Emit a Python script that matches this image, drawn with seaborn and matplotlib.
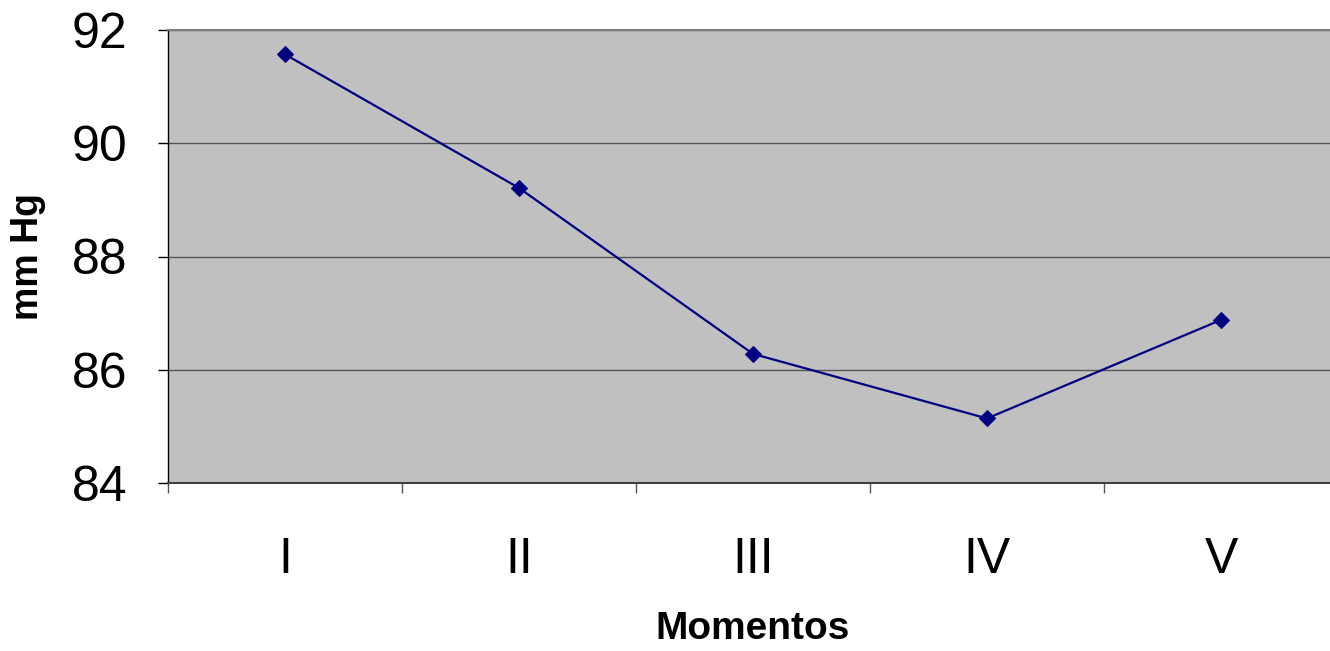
import numpy as np
import matplotlib
matplotlib.use("Agg")
import matplotlib.pyplot as plt
import seaborn as sns

# Daten
momentos = ["I", "II", "III", "IV", "V"]
mm_hg = [91.57, 89.21, 86.28, 85.14, 86.88]

sns.set_style("white")
plt.rcParams["font.family"] = ["Liberation Sans", "DejaVu Sans"]
plt.rcParams["text.color"] = "black"
plt.rcParams["axes.labelcolor"] = "black"
plt.rcParams["xtick.color"] = "black"
plt.rcParams["ytick.color"] = "black"

fig = plt.figure(figsize=(13.30, 6.51), dpi=100)
ax = fig.add_axes([168 / 1330, 1 - 483 / 651, 1170 / 1330, 453 / 651])
ax.set_facecolor("#C0C0C0")

sns.lineplot(x=momentos, y=mm_hg, ax=ax, color="#000080", linewidth=1.6,
             marker="D", markersize=8, markeredgecolor="#000080")

ax.set_xlim(-0.5, 4.5)
ax.set_ylim(84, 92)
ax.set_yticks([84, 86, 88, 90, 92])
ax.set_xticks(range(len(momentos)))
ax.set_xticklabels(momentos)
ax.set_xticks(np.arange(-0.5, 5.0, 1.0), minor=True)

# Gitterlinien
ax.yaxis.grid(True, color="#555555", linewidth=1)
ax.xaxis.grid(False)
ax.set_axisbelow(True)

ax.tick_params(axis="y", which="major", direction="out", length=7, width=1,
               color="#000000", labelcolor="black", pad=22, labelsize=36, left=True)
ax.tick_params(axis="x", which="major", length=0, pad=39, labelsize=36,
               labelcolor="black")
ax.tick_params(axis="x", which="minor", direction="out", length=7, width=1,
               color="#555555", bottom=True)

for name, sp in ax.spines.items():
    sp.set_visible(True)
ax.spines["left"].set_color("#000000")
ax.spines["left"].set_linewidth(1)
ax.spines["bottom"].set_color("#404040")
ax.spines["bottom"].set_linewidth(1.5)
ax.spines["top"].set_color("#808080")
ax.spines["top"].set_linewidth(1.5)
ax.spines["right"].set_visible(False)

ax.set_xlabel("Momentos", fontsize=28, fontweight="bold", color="black")
ax.xaxis.set_label_coords(0.5, -0.322)
ax.xaxis.label.set_va("center")
ax.set_ylabel("mm Hg", fontsize=27, fontweight="bold", color="black")
ax.yaxis.set_label_coords(-0.1197, 0.5)
ax.yaxis.label.set_va("center")

fig.savefig("out.png", dpi=100)
plt.close(fig)
